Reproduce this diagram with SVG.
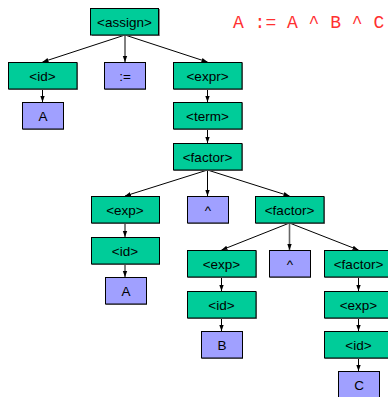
<svg xmlns="http://www.w3.org/2000/svg" width="388" height="397" viewBox="0 0 388 397">
<defs>
<style>
.g{fill:#00CC99;stroke:#000;stroke-width:1}
.p{fill:#A0A0FF;stroke:#000;stroke-width:1}
.sh{fill:#888;stroke:none}
.t{font-family:"Liberation Sans",Arial,sans-serif;font-size:13.5px;fill:#000;text-anchor:middle}
.e{stroke:#000;stroke-width:1;fill:none;marker-end:url(#ah)}
.ex{font-family:"Liberation Mono","Courier New",monospace;font-size:18px;fill:#FF3030}
</style>
<marker id="ah" markerUnits="userSpaceOnUse" markerWidth="6" markerHeight="6" viewBox="0 0 6 6" refX="6" refY="3" orient="auto">
<path d="M0,0.8 L6,3 L0,5.2 Z" fill="#000"/>
</marker>
</defs>
<rect width="388" height="397" fill="#fff"/>
<text class="ex" x="233" y="27.5">A := A ^ B ^ C</text>
<g id="connectors">
<line class="e" x1="125" y1="35" x2="42.5" y2="62"/>
<line class="e" x1="125" y1="35" x2="125" y2="62"/>
<line class="e" x1="125" y1="35" x2="207.5" y2="62"/>
<line class="e" x1="42.5" y1="89" x2="42.5" y2="102"/>
<line class="e" x1="207.5" y1="89" x2="207.5" y2="102"/>
<line class="e" x1="207.5" y1="129" x2="207.5" y2="143"/>
<line class="e" x1="207.5" y1="170" x2="125" y2="196"/>
<line class="e" x1="207.5" y1="170" x2="207.5" y2="196"/>
<line class="e" x1="207.5" y1="170" x2="289.5" y2="196"/>
<line class="e" x1="125" y1="223" x2="125" y2="237"/>
<line class="e" x1="125" y1="264" x2="125" y2="277"/>
<line class="e" x1="289.5" y1="223" x2="221.5" y2="250"/>
<line class="e" x1="289.5" y1="223" x2="289.5" y2="250" style="stroke:#666;stroke-width:1.6"/>
<line class="e" x1="289.5" y1="223" x2="358.5" y2="250"/>
<line class="e" x1="221.5" y1="277" x2="221.5" y2="291"/>
<line class="e" x1="221.5" y1="318" x2="221.5" y2="331"/>
<line class="e" x1="358.5" y1="277" x2="358.5" y2="291"/>
<line class="e" x1="358.5" y1="318" x2="358.5" y2="331"/>
<line class="e" x1="358.5" y1="358" x2="358.5" y2="371"/>
</g>
<g id="n-assign"><rect class="sh" x="92" y="9" width="68" height="27"/><rect class="g" x="90.5" y="8.5" width="68" height="26.5"/><text class="t" x="124.5" y="26.5">&lt;assign&gt;</text></g>
<g id="n-id1"><rect class="sh" x="9" y="63" width="69" height="27"/><rect class="g" x="8.5" y="62.5" width="68.5" height="26.5"/><text class="t" x="42.5" y="80.5">&lt;id&gt;</text></g>
<g id="n-assignop"><rect class="sh" x="105" y="63" width="41" height="27"/><rect class="p" x="104.5" y="62.5" width="41" height="26.5"/><text class="t" x="125" y="80.5">:=</text></g>
<g id="n-expr"><rect class="sh" x="174" y="63" width="69" height="27"/><rect class="g" x="173.5" y="62.5" width="68.5" height="26.5"/><text class="t" x="207.5" y="80.5">&lt;expr&gt;</text></g>
<g id="n-A1"><rect class="sh" x="23" y="103" width="41" height="27"/><rect class="p" x="22.5" y="102.5" width="41" height="26.5"/><text class="t" x="43" y="120.5">A</text></g>
<g id="n-term"><rect class="sh" x="174" y="103" width="69" height="27"/><rect class="g" x="173.5" y="102.5" width="68.5" height="26.5"/><text class="t" x="207.5" y="120.5">&lt;term&gt;</text></g>
<g id="n-factor1"><rect class="sh" x="174" y="144" width="69" height="27"/><rect class="g" x="173.5" y="143.5" width="68.5" height="26.5"/><text class="t" x="207.5" y="161.5">&lt;factor&gt;</text></g>
<g id="n-exp1"><rect class="sh" x="92" y="197" width="68" height="27"/><rect class="g" x="91.5" y="196.5" width="68" height="26.5"/><text class="t" x="125" y="214.5">&lt;exp&gt;</text></g>
<g id="n-caret1"><rect class="sh" x="188" y="197" width="41" height="27"/><rect class="p" x="187.5" y="196.5" width="41" height="26.5"/><text class="t" x="208" y="214.5">^</text></g>
<g id="n-factor2"><rect class="sh" x="256" y="197" width="69" height="27"/><rect class="g" x="255.5" y="196.5" width="68.5" height="26.5"/><text class="t" x="289.5" y="214.5">&lt;factor&gt;</text></g>
<g id="n-id2"><rect class="sh" x="92" y="238" width="68" height="27"/><rect class="g" x="91.5" y="237.5" width="68" height="26.5"/><text class="t" x="125" y="255.5">&lt;id&gt;</text></g>
<g id="n-A2"><rect class="sh" x="106" y="278" width="41" height="27"/><rect class="p" x="105.5" y="277.5" width="41" height="26.5"/><text class="t" x="126" y="295.5">A</text></g>
<g id="n-exp2"><rect class="sh" x="188" y="251" width="69" height="27"/><rect class="g" x="187.5" y="250.5" width="68.5" height="26.5"/><text class="t" x="221.5" y="268.5">&lt;exp&gt;</text></g>
<g id="n-caret2"><rect class="sh" x="270" y="251" width="41" height="27"/><rect class="p" x="269.5" y="250.5" width="41" height="26.5"/><text class="t" x="290" y="268.5">^</text></g>
<g id="n-factor3"><rect class="sh" x="325" y="251" width="69" height="27"/><rect class="g" x="324.5" y="250.5" width="68.5" height="26.5"/><text class="t" x="358.5" y="268.5">&lt;factor&gt;</text></g>
<g id="n-id3"><rect class="sh" x="188" y="292" width="69" height="27"/><rect class="g" x="187.5" y="291.5" width="68.5" height="26.5"/><text class="t" x="221.5" y="309.5">&lt;id&gt;</text></g>
<g id="n-exp3"><rect class="sh" x="325" y="292" width="69" height="27"/><rect class="g" x="324.5" y="291.5" width="68.5" height="26.5"/><text class="t" x="358.5" y="309.5">&lt;exp&gt;</text></g>
<g id="n-B"><rect class="sh" x="202" y="332" width="41" height="27"/><rect class="p" x="201.5" y="331.5" width="41" height="26.5"/><text class="t" x="222" y="349.5">B</text></g>
<g id="n-id4"><rect class="sh" x="325" y="332" width="69" height="27"/><rect class="g" x="324.5" y="331.5" width="68.5" height="26.5"/><text class="t" x="358.5" y="349.5">&lt;id&gt;</text></g>
<g id="n-C"><rect class="sh" x="339" y="372" width="41" height="27"/><rect class="p" x="338.5" y="371.5" width="41" height="26.5"/><text class="t" x="359" y="389.5">C</text></g>
</svg>
